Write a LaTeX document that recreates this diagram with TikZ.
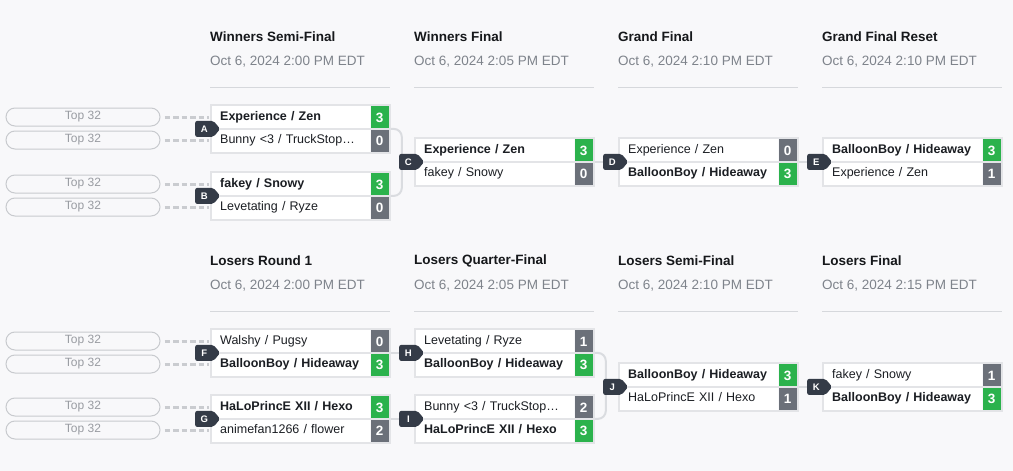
\documentclass[tikz,border=0pt]{standalone}
\usepackage{fontspec}
\setmainfont{Liberation Sans}
\usetikzlibrary{fit,shapes.symbols}

% 颜色
\definecolor{beijing}{HTML}{F8F8FA}
\definecolor{kuangse}{HTML}{E3E4E7}
\definecolor{lvse}{HTML}{2BB24C}
\definecolor{huise}{HTML}{6B7079}
\definecolor{shense}{HTML}{343B47}
\definecolor{wenzi}{HTML}{1B1E23}
\definecolor{biaotise}{HTML}{16181B}
\definecolor{riqise}{HTML}{7E838B}
\definecolor{hengse}{HTML}{D6D8DC}
\definecolor{xianse}{HTML}{DADCE0}
\definecolor{xuse}{HTML}{CACCD0}
\definecolor{pillse}{HTML}{C8CACE}
\definecolor{pilltext}{HTML}{999CA2}

\tikzset{
  % 队伍那一行
  duiwu/.style={fill=white, text width=142pt, inner xsep=8pt, inner ysep=0pt,
    minimum height=22.5pt, text height=9pt, text depth=2.5pt, align=left,
    font=\fontsize{12.5}{14}\selectfont, text=wenzi},
  win/.style={font=\fontsize{12.5}{14}\selectfont\bfseries},
  lose/.style={},
  % 比分的小方块
  fenshu/.style={minimum width=18pt, minimum height=22.5pt, inner sep=0pt,
    text=white, font=\fontsize{13.5}{14}\selectfont\bfseries,
    text height=9.5pt, text depth=0pt},
  win s/.style={fill=lvse},
  lose s/.style={fill=huise},
  kuang/.style={draw=kuangse, line width=2pt, inner sep=1pt},
  fengexian/.style={draw=kuangse, line width=1.5pt},
  % 字母标记
  biaoji/.style={signal, signal to=east, signal pointer angle=100,
    fill=shense, text=white, minimum width=25pt, minimum height=16pt,
    inner sep=0pt, rounded corners=2pt,
    font=\fontsize{9.5}{9.5}\selectfont\bfseries},
  lianxian/.style={draw=xianse, line width=2pt, rounded corners=8pt},
  xuxian/.style={draw=xuse, line width=3pt, dash pattern=on 5.5pt off 3pt,
    shorten <=4pt, shorten >=1pt},
  yuanjiao/.style={draw=pillse, line width=1pt, rounded corners=9pt,
    minimum width=154pt, minimum height=18pt, inner sep=0pt, text=pilltext,
    font=\fontsize{12}{12}\selectfont},
  biaoti/.style={anchor=west, inner sep=0pt,
    font=\fontsize{13.5}{15}\selectfont\bfseries, text=biaotise},
  riqi/.style={anchor=west, inner sep=0pt,
    font=\fontsize{13.5}{15}\selectfont, text=riqise},
  hengxian/.style={draw=hengse, line width=1pt}
}

% 一场比赛: 名字, x, y, 队1, 分1, 胜负1, 队2, 分2, 胜负2
\newcommand{\bisai}[9]{%
  \node[duiwu,#6,anchor=north west] (#1-1) at (#2+2,#3+2) {#4};
  \node[fenshu,#6 s,anchor=west] (#1-1s) at (#1-1.east) {#5};
  \node[duiwu,#9,anchor=north west] (#1-2) at (#1-1.south west) {#7};
  \node[fenshu,#9 s,anchor=west] (#1-2s) at (#1-2.east) {#8};
  \node[kuang,fit=(#1-1)(#1-2s)] (#1) {};
  \draw[fengexian] (#1-1.south west) -- (#1-1s.south east);
}

\begin{document}
\begin{tikzpicture}[x=1pt,y=-1pt]

  \useasboundingbox[fill=beijing] (0,0) rectangle (1013,471);

  % 画标题
  \foreach \x/\t/\d [count=\i] in {210/Winners Semi-Final/2:00,
      414/Winners Final/2:05, 618/Grand Final/2:10, 822/Grand Final Reset/2:10}{
    \node[biaoti] (w\i) at (\x,37) {\t};
    \node[riqi] (wd\i) at (\x,61.5) {Oct 6, 2024 \d\ PM EDT};
    \draw[hengxian] (\x,87) -- (\x+180,87);
  }
  \foreach \x/\t/\d [count=\i] in {210/Losers Round 1/2:00,
      414/Losers Quarter-Final/2:05, 618/Losers Semi-Final/2:10, 822/Losers Final/2:15}{
    \node[biaoti] (l\i) at (\x,261) {\t};
    \node[riqi] (ld\i) at (\x,285.5) {Oct 6, 2024 \d\ PM EDT};
    \draw[hengxian] (\x,311) -- (\x+180,311);
  }

  % 左边的 Top 32
  \foreach \y [count=\i] in {117,140,184,207,341,364,407,430}
    \node[yuanjiao] (p\i) at (83,\y) {Top 32};

  % 胜者组
  \bisai{A}{210}{104}{Experience / Zen}{3}{win}{Bunny <3 / TruckStop…}{0}{lose}
  \bisai{B}{210}{171}{fakey / Snowy}{3}{win}{Levetating / Ryze}{0}{lose}
  \bisai{C}{414}{137}{Experience / Zen}{3}{win}{fakey / Snowy}{0}{lose}
  \bisai{D}{618}{137}{Experience / Zen}{0}{lose}{BalloonBoy / Hideaway}{3}{win}
  \bisai{E}{822}{137}{BalloonBoy / Hideaway}{3}{win}{Experience / Zen}{1}{lose}

  % 败者组
  \bisai{F}{210}{328}{Walshy / Pugsy}{0}{lose}{BalloonBoy / Hideaway}{3}{win}
  \bisai{G}{210}{394}{HaLoPrincE XII / Hexo}{3}{win}{animefan1266 / flower}{2}{lose}
  \bisai{H}{414}{328}{Levetating / Ryze}{1}{lose}{BalloonBoy / Hideaway}{3}{win}
  \bisai{I}{414}{394}{Bunny <3 / TruckStop…}{2}{lose}{HaLoPrincE XII / Hexo}{3}{win}
  \bisai{J}{618}{362}{BalloonBoy / Hideaway}{3}{win}{HaLoPrincE XII / Hexo}{1}{lose}
  \bisai{K}{822}{362}{fakey / Snowy}{1}{lose}{BalloonBoy / Hideaway}{3}{win}

  % 虚线
  \draw[xuxian] (p1.east) -- (p1.east -| A.west);
  \draw[xuxian] (p2.east) -- (p2.east -| A.west);
  \draw[xuxian] (p3.east) -- (p3.east -| B.west);
  \draw[xuxian] (p4.east) -- (p4.east -| B.west);
  \draw[xuxian] (p5.east) -- (p5.east -| F.west);
  \draw[xuxian] (p6.east) -- (p6.east -| F.west);
  \draw[xuxian] (p7.east) -- (p7.east -| G.west);
  \draw[xuxian] (p8.east) -- (p8.east -| G.west);

  % 连线
  \draw[lianxian] (A.east) -- ++(11,0) |- (B.east);
  \draw[lianxian] (C.east) -- (D.west);
  \draw[lianxian] (D.east) -- (E.west);
  \draw[lianxian] (F.east) -- (H.west);
  \draw[lianxian] (G.east) -- (I.west);
  \draw[lianxian] (H.east) -- ++(11,0) |- (I.east);
  \draw[lianxian] (J.east) -- (K.west);

  % 字母标记
  \foreach \m in {A,...,K}
    \node[biaoji,anchor=west] (b\m) at ([xshift=-15pt]\m.west) {\m};

\end{tikzpicture}
\end{document}
